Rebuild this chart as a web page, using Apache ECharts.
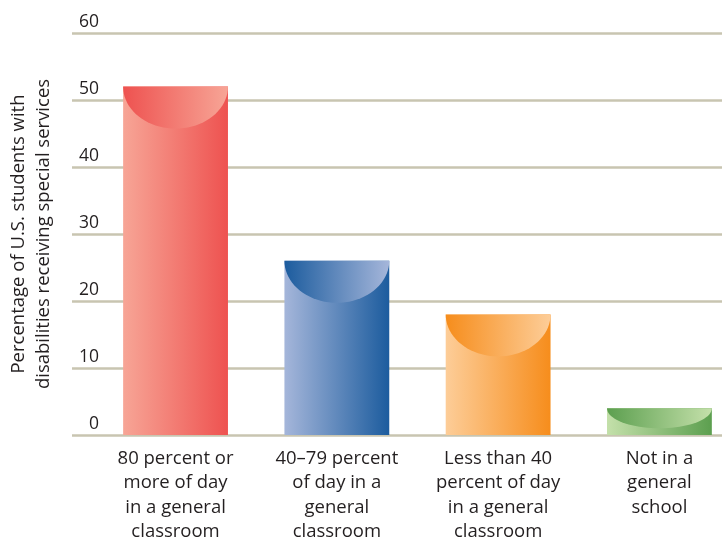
<!DOCTYPE html>
<html>
<head>
<meta charset="utf-8">
<script src="https://cdn.jsdelivr.net/npm/echarts@6/dist/echarts.min.js"></script>
<style>
  html, body { margin: 0; padding: 0; background: #fff; }
  #main { width: 722px; height: 543px; }
</style>
</head>
<body>
<div id="main"></div>
<script>
// 数据
var categories = [
  '80 percent or\nmore of day\nin a general\nclassroom',
  '40\u201379 percent\nof day in a\ngeneral\nclassroom',
  'Less than 40\npercent of day\nin a general\nclassroom',
  'Not in a\ngeneral\nschool'
];
var values = [52, 26, 18, 4];
var yTicks = [0, 10, 20, 30, 40, 50, 60];
var yTitle = 'Percentage of U.S. students with\ndisabilities receiving special services';

// 每根柱子的颜色: [浅, 深]
var barColors = [
  ['#f7a596', '#ee5250'],
  ['#a5b6da', '#1c5c9e'],
  ['#fdcd98', '#f68d1c'],
  ['#c4e0aa', '#5c9f4f']
];

var textColor = '#231f20';
var font = 'Open Sans';

function grad(a, b) {
  return new echarts.graphic.LinearGradient(0, 0, 1, 0, [
    {offset: 0, color: a},
    {offset: 1, color: b}
  ]);
}

var chartDom = document.getElementById('main');
var myChart = echarts.init(chartDom);
var option = {
  animation: false,
  grid: {left: 72, right: 0, top: 33, bottom: 108, outerBoundsMode: 'none', containLabel: false},
  xAxis: {
    // 柱子相对网格线偏右, 所以用数值轴放置类别
    type: 'value',
    min: -0.642,
    max: 3.388,
    splitLine: {show: false},
    axisLine: {show: false},
    axisTick: {show: false},
    axisLabel: {
      customValues: categories.map(function (c, i) { return i; }),
      formatter: function (v) { return categories[Math.round(v)]; },
      color: textColor,
      fontFamily: font,
      fontSize: 18.5,
      lineHeight: 24.5,
      margin: 11
    }
  },
  yAxis: {
    type: 'value',
    min: 0,
    max: 60,
    interval: 10,
    name: yTitle,
    nameLocation: 'middle',
    nameRotate: 90,
    nameGap: 16,
    nameTextStyle: {
      color: textColor,
      fontFamily: font,
      fontSize: 18.5,
      lineHeight: 25
    },
    axisLine: {show: false},
    axisTick: {show: false},
    splitLine: {lineStyle: {color: '#c8c5b1', width: 2.5}},
    axisLabel: {
      inside: true,
      align: 'right',
      verticalAlign: 'bottom',
      margin: 27,
      padding: [0, 0, 2, 0],
      color: textColor,
      fontFamily: font,
      fontSize: 17.5,
      formatter: function (v) { return yTicks.indexOf(v) >= 0 ? String(v) : ''; }
    }
  },
  series: [
    {
      type: 'custom',
      data: values.map(function (v, i) { return [i, v]; }),
      encode: {x: 0, y: 1},
      renderItem: function (params, api) {
        var i = params.dataIndex;
        var top = api.coord([api.value(0), api.value(1)]);
        var base = api.coord([api.value(0), 0]);
        var w = api.size([1, 0])[0] * 0.65;
        var x0 = top[0] - w / 2;
        var hBar = base[1] - top[1];
        var capH = Math.min(42, hBar * 0.75);
        var c = barColors[i];
        // 半椭圆顶部
        var pts = [];
        for (var k = 0; k <= 40; k++) {
          var t = Math.PI * k / 40;
          pts.push([top[0] - Math.cos(t) * w / 2, top[1] + Math.sin(t) * capH]);
        }
        return {
          type: 'group',
          children: [
            {
              type: 'rect',
              shape: {x: x0, y: top[1], width: w, height: hBar},
              style: {fill: grad(c[0], c[1])}
            },
            {
              type: 'polygon',
              shape: {points: pts},
              style: {fill: grad(c[1], c[0])}
            }
          ]
        };
      }
    }
  ]
};
myChart.setOption(option);
</script>
</body>
</html>
